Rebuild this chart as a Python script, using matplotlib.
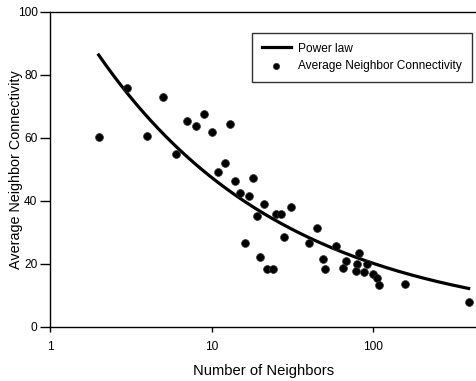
import numpy as np
import matplotlib
matplotlib.use("Agg")
import matplotlib.pyplot as plt

plt.rcParams['font.family'] = ['Liberation Sans', 'DejaVu Sans']

# Observed data: number of neighbors vs. average neighbor connectivity
neighbors = [2, 3, 4, 5, 6, 7, 8, 9, 10, 11, 12, 13, 14, 15, 17, 18,
             21, 19, 25, 27, 31, 16, 20, 22, 24, 28, 45, 40, 59, 49,
             50, 81, 68, 65, 79, 78, 91, 88, 100, 105, 108, 156, 388]
connectivity = [60.3, 75.7, 60.6, 73.1, 54.8, 65.4, 63.8, 67.7, 61.7, 49.0,
                52.0, 64.5, 46.4, 42.4, 41.5, 47.1, 38.9, 35.2, 35.8, 35.8,
                38.0, 26.5, 22.1, 18.2, 18.2, 28.5, 31.3, 26.5, 25.6, 21.4,
                18.2, 23.5, 20.9, 18.5, 19.8, 17.7, 19.8, 17.2, 16.7, 15.3,
                13.2, 13.5, 7.8]

# Power-law fit y = a * x^b
fit_a = 111.8
fit_b = -0.373
fit_x = np.logspace(np.log10(2), np.log10(388), 200)
fit_y = fit_a * fit_x ** fit_b

x_ticks = [1, 10, 100]
x_tick_labels = ["1", "10", "100"]
y_ticks = [0, 20, 40, 60, 80, 100]

fig = plt.figure(figsize=(4.77, 3.81), dpi=100)
ax = fig.add_axes([50 / 477, 54.5 / 381, 427 / 477, 314.5 / 381])

ax.plot(fit_x, fit_y, color="black", lw=2.3, label="Power law", zorder=2)
ax.scatter(neighbors, connectivity, s=32, color="black", edgecolors="#333333",
           linewidths=0.5, label="Average Neighbor Connectivity", zorder=3)

ax.set_xscale("log")
ax.set_xlim(1, 10 ** (427 / 161.7))
ax.set_ylim(0, 100)
ax.set_xticks(x_ticks)
ax.set_xticklabels(x_tick_labels)
ax.xaxis.set_minor_locator(matplotlib.ticker.NullLocator())
ax.set_yticks(y_ticks)

ax.spines["right"].set_visible(False)
for side in ("left", "bottom", "top"):
    ax.spines[side].set_linewidth(1.0)

ax.tick_params(axis="both", direction="out", width=1, labelsize=8.6)
ax.tick_params(axis="x", length=3.5, pad=7)
ax.tick_params(axis="y", length=7, pad=2)

ax.set_xlabel("Number of Neighbors", fontsize=10.6, va="center")
ax.xaxis.set_label_coords(0.5, (326.5 - 371) / 314.5)
ax.set_ylabel("Average Neighbor Connectivity", fontsize=10.4, va="center")
ax.yaxis.set_label_coords(-34 / 427, 0.5)

leg = ax.legend(loc="upper right", bbox_to_anchor=(0.988, 0.933),
                borderaxespad=0, fontsize=8.6, frameon=True, fancybox=False,
                edgecolor="black", handlelength=2.4, handletextpad=0.65,
                borderpad=0.8, labelspacing=0.45, markerscale=0.8)
leg.get_frame().set_linewidth(1.0)

fig.savefig("out.png", dpi=100)
